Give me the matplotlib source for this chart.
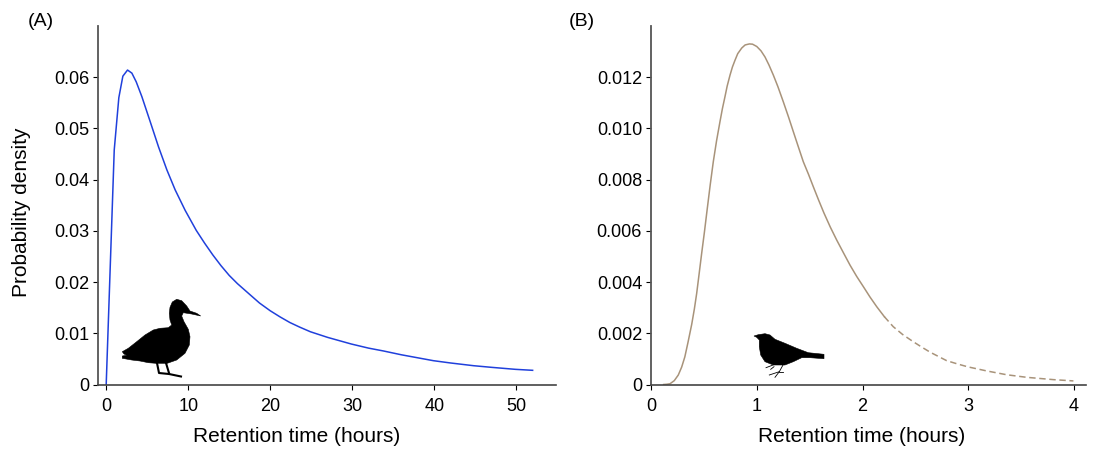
import matplotlib
matplotlib.use("Agg")
import matplotlib.pyplot as plt
from matplotlib.patches import Polygon

plt.rcParams["font.family"] = ["Liberation Sans", "DejaVu Sans"]

W, H = 1104, 455

# panel A
duck_t = [0, 0.98, 1.54, 2.03, 2.6, 3.13, 3.66, 4.35, 5.37, 6.38, 7.4, 8.41, 9.63, 10.98, 12, 13, 14, 15, 16,
          17.56, 18.7, 20, 21.2, 22.4, 23.6, 24.9, 27, 29.9, 32, 33.8, 36, 39.9, 42, 44.8, 47, 49.9, 52]
duck_p = [0, 0.0458, 0.0560, 0.0602, 0.0614, 0.0608, 0.0591, 0.0562, 0.0513, 0.0464, 0.0419, 0.0380, 0.0340,
          0.0301, 0.0276, 0.0253, 0.0232, 0.0213, 0.0197, 0.0175, 0.0159, 0.0144, 0.0132, 0.0121, 0.0112,
          0.0103, 0.0092, 0.0079, 0.0071, 0.00655, 0.0058, 0.00465, 0.0042, 0.00367, 0.00335, 0.00296, 0.00277]

# panel B, solid then dashed part
bird_t = [0.12, 0.15, 0.18, 0.22, 0.258, 0.29, 0.32, 0.35, 0.385, 0.41, 0.432, 0.455, 0.479, 0.505, 0.53, 0.56,
          0.589, 0.62, 0.652, 0.675, 0.70, 0.72, 0.747, 0.77, 0.794, 0.82, 0.858, 0.89, 0.93, 0.96, 1.0, 1.04,
          1.078, 1.115, 1.157, 1.2, 1.251, 1.3, 1.346, 1.39, 1.44, 1.49, 1.535, 1.585, 1.635, 1.695, 1.756,
          1.82, 1.882, 1.945, 2.008, 2.07, 2.134, 2.206]
bird_p = [0, 0.00001, 0.00003, 0.00015, 0.00037, 0.00068, 0.00108, 0.00165, 0.00235, 0.00295, 0.00356, 0.00432,
          0.00512, 0.00595, 0.0068, 0.0078, 0.0087, 0.00952, 0.01026, 0.01077, 0.01125, 0.01165, 0.01208,
          0.0124, 0.01266, 0.01292, 0.01314, 0.01326, 0.0133, 0.01329, 0.0132, 0.01303, 0.01279, 0.01248,
          0.01208, 0.01163, 0.01104, 0.01045, 0.00987, 0.00932, 0.0087, 0.0082, 0.00772, 0.0072, 0.0067,
          0.00615, 0.00564, 0.00514, 0.00466, 0.00422, 0.00382, 0.00342, 0.00304, 0.00265]
bird_t2 = [2.206, 2.29, 2.38, 2.48, 2.56, 2.64, 2.72, 2.796, 2.9, 2.995, 3.174, 3.364, 3.553, 3.805, 3.994]
bird_p2 = [0.00265, 0.00226, 0.00195, 0.00167, 0.00146, 0.00126, 0.00109, 0.00093, 0.0008, 0.00069, 0.00053,
           0.00038, 0.00028, 0.00019, 0.00014]

# silhouettes, traced in image pixels
duck_x = [200.7, 196.7, 190, 186.7, 181.7, 176.7, 172.3, 170, 169.3, 170, 171.7, 168.3, 160, 153.3, 145, 136.7,
          128.3, 122.3, 124, 126.7, 122.3, 122.3, 131.7, 140, 148.3, 156, 167.3, 176.7, 185, 189.3, 190, 188.3,
          184, 181.7, 183.3, 191.7]
duck_y = [316, 313.3, 311, 306, 300.7, 299.3, 302, 307.3, 313.3, 320, 325, 327.7, 328.3, 330, 335, 341.7,
          348.3, 351.7, 354, 355.3, 356, 358.3, 360, 361, 362.7, 363.3, 363.3, 360, 353.3, 345, 336.7, 329.3,
          321.7, 316, 312.7, 314]
duck_leg1_x = [157, 159, 169, 181]
duck_leg1_y = [363, 373, 374, 376.5]
duck_leg2_x = [166, 169]
duck_leg2_y = [363, 373]

bird_x = [754, 758.3, 765, 770, 775, 785, 796.7, 808.3, 824, 824, 810, 801.7, 793.3, 785, 773.3, 765, 760.7,
          759.3, 759.3, 756.7]
bird_y = [336, 334.7, 333.7, 335, 339.3, 343.3, 348.3, 352.7, 354.3, 358.7, 357.7, 357.7, 361.7, 365, 365,
          361.7, 355, 346.7, 340, 337.3]
bird_legs = [
    ([773, 766], [365, 367.7]),
    ([774, 770.7], [366.7, 369.3]),
    ([783, 779.3, 769.3], [365, 371.7, 375]),
    ([779.3, 783.3], [371.7, 371.7]),
    ([779.3, 775], [371.7, 377.3]),
]


def make_axes(left, right, top, bottom):
    ax = fig.add_axes([left / W, 1 - bottom / H, (right - left) / W, (bottom - top) / H])
    ax.spines["top"].set_visible(False)
    ax.spines["right"].set_visible(False)
    ax.spines["left"].set_linewidth(1.3)
    ax.spines["left"].set_color("#555555")
    ax.spines["bottom"].set_linewidth(1.2)
    ax.spines["bottom"].set_color("#444444")
    ax.tick_params(labelsize=13, length=3.8, width=0.8)
    ax.tick_params(axis="x", pad=5.8)
    ax.tick_params(axis="y", pad=2.6)
    ax.set_xlabel("Retention time (hours)", fontsize=15, va="center")
    return ax


fig = plt.figure(figsize=(W / 100, H / 100), dpi=100)

ax1 = make_axes(98, 556, 26, 384.5)
ax1.plot(duck_t, duck_p, color="#2040dc", lw=1.1)
ax1.set_xlim(-1, 54.85)
ax1.set_ylim(0, 0.07)
ax1.set_xticks([0, 10, 20, 30, 40, 50])
ax1.set_yticks([0, 0.01, 0.02, 0.03, 0.04, 0.05, 0.06])
ax1.set_yticklabels(["0", "0.01", "0.02", "0.03", "0.04", "0.05", "0.06"])
ax1.set_ylabel("Probability density", fontsize=15, va="center")
ax1.xaxis.set_label_coords(0.4345, -0.1437)
ax1.yaxis.set_label_coords(-0.168, 0.481)

ax2 = make_axes(651, 1086, 26, 384.5)
ax2.plot(bird_t, bird_p, color="#a8937a", lw=1.1)
ax2.plot(bird_t2, bird_p2, color="#a8937a", lw=1.1, ls=(0, (4.2, 2.4)))
ax2.set_xlim(0, 4.113)
ax2.set_ylim(0, 0.014)
ax2.set_xticks([0, 1, 2, 3, 4])
ax2.set_yticks([0, 0.002, 0.004, 0.006, 0.008, 0.010, 0.012])
ax2.set_yticklabels(["0", "0.002", "0.004", "0.006", "0.008", "0.010", "0.012"])
ax2.xaxis.set_label_coords(0.484, -0.1437)

# overlay in pixel coords for the panel letters and animals
over = fig.add_axes([0, 0, 1, 1])
over.set_xlim(0, W)
over.set_ylim(H, 0)
over.axis("off")
over.add_patch(Polygon(list(zip(duck_x, duck_y)), closed=True, fc="black", ec="black", lw=0.4))
over.plot(duck_leg1_x, duck_leg1_y, color="black", lw=1.5)
over.plot(duck_leg2_x, duck_leg2_y, color="black", lw=1.5)
over.add_patch(Polygon(list(zip(bird_x, bird_y)), closed=True, fc="black", ec="black", lw=0.4))
for xs, ys in bird_legs:
    over.plot(xs, ys, color="black", lw=0.6)
over.text(28, 21, "(A)", fontsize=14, va="center")
over.text(569, 22, "(B)", fontsize=14, va="center")

fig.savefig("out.png", dpi=100)
plt.close()
